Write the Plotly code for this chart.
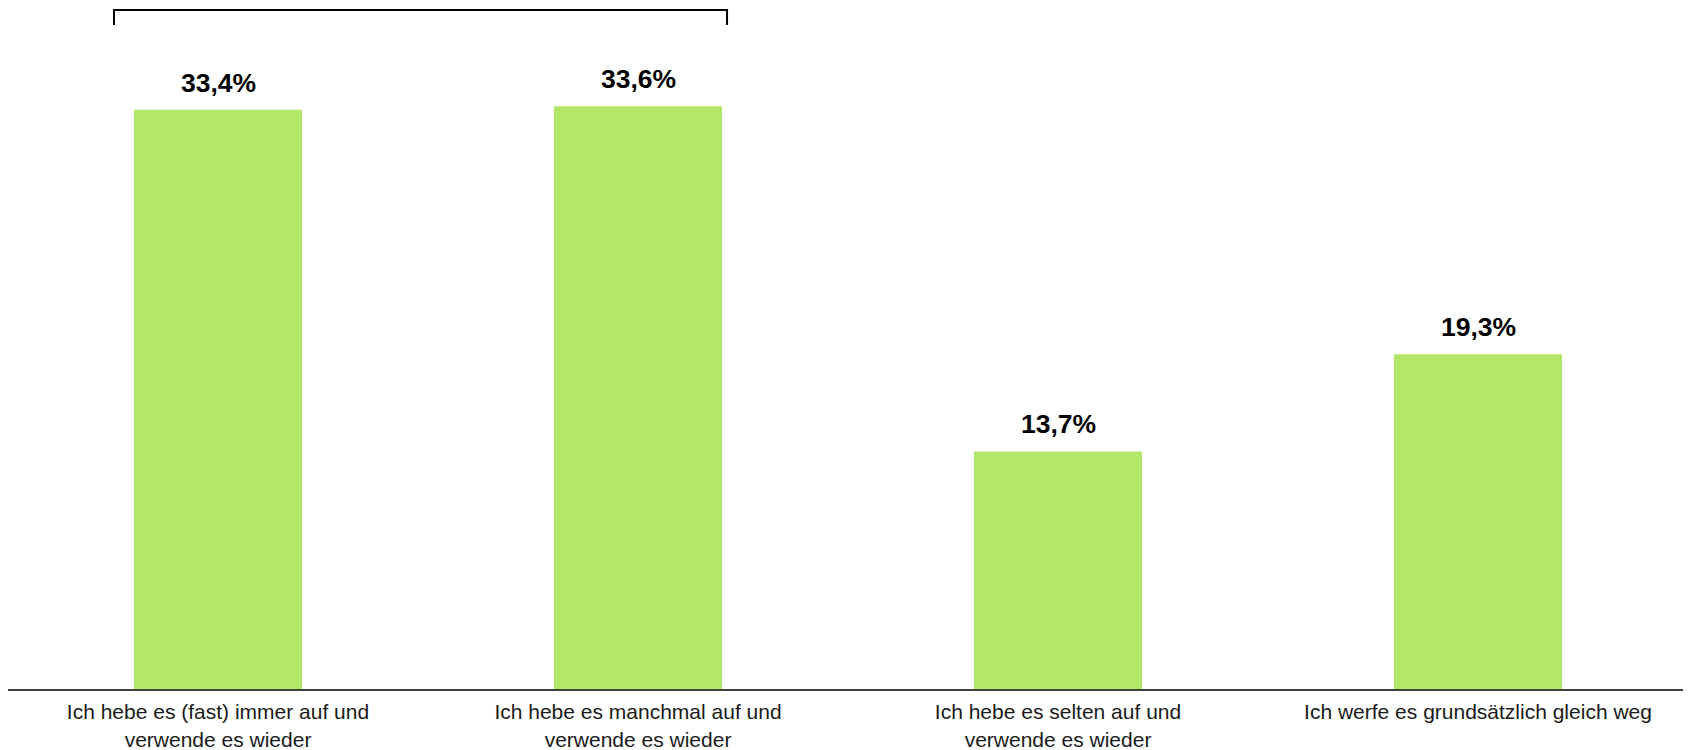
import plotly.graph_objects as go

categories = [
    "Ich hebe es (fast) immer auf und<br>verwende es wieder",
    "Ich hebe es manchmal auf und<br>verwende es wieder",
    "Ich hebe es selten auf und<br>verwende es wieder",
    "Ich werfe es grundsätzlich gleich weg",
]
values = [33.4, 33.6, 13.7, 19.3]
value_labels = ["33,4%", "33,6%", "13,7%", "19,3%"]

FONT = "Liberation Sans, Arial, sans-serif"
x_idx = list(range(len(categories)))

fig = go.Figure()
fig.add_trace(go.Bar(
    x=x_idx, y=values,
    marker=dict(color="#b3e669", line=dict(width=0)),
    hoverinfo="skip",
))

for i, (v, t) in enumerate(zip(values, value_labels)):
    fig.add_annotation(
        x=i, y=v, text=f"<b>{t}</b>", showarrow=False,
        yanchor="bottom", yshift=10,
        font=dict(family=FONT, size=26.5, color="#000000"),
    )

# bracket over first two bars
fig.add_shape(
    type="path",
    path="M -0.2476,38.29 L -0.2476,39.16 L 1.212,39.16 L 1.212,38.29",
    xref="x", yref="y",
    line=dict(color="#000000", width=2),
)

fig.update_layout(
    width=1683, height=742,
    margin=dict(l=0, r=3, t=0, b=61, autoexpand=False),
    paper_bgcolor="white", plot_bgcolor="white",
    bargap=0.6, showlegend=False,
    font=dict(family=FONT),
    xaxis=dict(
        range=[-0.5, 3.5], automargin=False,
        tickmode="array", tickvals=x_idx, ticktext=categories,
        tickfont=dict(family=FONT, size=21, color="#1a1a1a"),
        showgrid=False, zeroline=False,
        showline=True, linecolor="#404040", linewidth=2,
        ticks="", ticklabelstandoff=3,
    ),
    yaxis=dict(
        range=[0, 39.27], visible=False, showgrid=False, zeroline=False,
        automargin=False,
    ),
)

fig.write_html("out.html")
